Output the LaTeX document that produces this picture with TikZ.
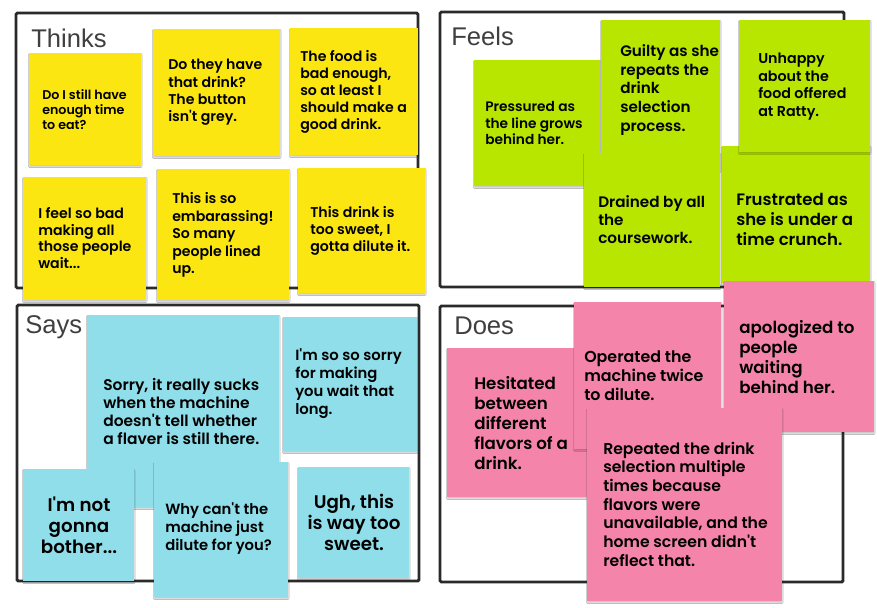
\documentclass[tikz,border=0pt]{standalone}
\usepackage{fontspec}
\setmainfont{Liberation Sans}
\newfontfamily\notefont{Poppins}[BoldFont={Poppins SemiBold}]
\newfontfamily\headfont{Liberation Sans}
\usetikzlibrary{fit,shadows.blur}

\definecolor{frameline}{HTML}{2A2A2A}
\definecolor{headgray}{HTML}{3F3F3F}
\definecolor{stickyyellow}{HTML}{FBE612}
\definecolor{stickylime}{HTML}{B8E600}
\definecolor{stickycyan}{HTML}{8FDEEA}
\definecolor{stickypink}{HTML}{F584AA}

\tikzset{
  quadframe/.style={draw=frameline, line width=2.2pt, rounded corners=1pt},
  quadtitle/.style={anchor=west, inner sep=0, text=headgray, font=\headfont\fontsize{19.2}{23}\selectfont},
  sticky/.style={fit={#1}, inner sep=0, draw=none,
    blur shadow={shadow xshift=0.2pt, shadow yshift=-1.1pt, shadow blur steps=3,
                 shadow blur radius=0.7pt, shadow opacity=22}},
  yellownote/.style={sticky={#1}, fill=stickyyellow},
  limenote/.style={sticky={#1}, fill=stickylime},
  cyannote/.style={sticky={#1}, fill=stickycyan},
  pinknote/.style={sticky={#1}, fill=stickypink},
  notetext/.style 2 args={anchor=west, align=left, inner sep=0, text=black,
    font=\notefont\bfseries\fontsize{#1}{#2}\selectfont},
  notetextc/.style 2 args={anchor=center, align=center, inner sep=0, text=black,
    font=\notefont\bfseries\fontsize{#1}{#2}\selectfont},
}

\begin{document}
\begin{tikzpicture}[x=0.75pt, y=-0.75pt]
  \useasboundingbox[fill=white] (0,0) rectangle (877,607);

  % the four quadrants
  \node[quadframe, fit={(16,13) (418,288)}, inner sep=0] (thinksbox) {};
  \node[quadframe, fit={(440,12) (844,287)}, inner sep=0] (feelsbox) {};
  \node[quadframe, fit={(17,305) (419,581)}, inner sep=0] (saysbox) {};
  \node[quadframe, fit={(440,306) (843,582)}, inner sep=0] (doesbox) {};

  \node[quadtitle] (thinks) at (31,38) {Thinks};
  \node[quadtitle] (feels) at (451,36) {Feels};
  \node[quadtitle] (says) at (25,327) {Says};
  \node[quadtitle] (does) at (454,326) {Does};

  % Thinks
  \node[yellownote={(29,53) (141,165)}] (t1) {};
  \node[notetext={9.5}{11.25}] (t1x) at (42,110) {Do I still have\\enough time\\to eat?};
  \node[yellownote={(153,29) (280,156)}] (t2) {};
  \node[notetext={10.6}{13}] (t2x) at (168,92.5) {Do they have\\that drink?\\The button\\isn't grey.};
  \node[yellownote={(290,28) (418,155)}] (t3) {};
  \node[notetext={10.6}{12.75}] (t3x) at (300,92) {The food is\\bad enough,\\so at least I\\should make a\\good drink.};
  \node[yellownote={(23,177) (146,300)}] (t4) {};
  \node[notetext={10.6}{12.5}] (t4x) at (38,238) {I feel so bad\\making all\\those people\\wait...};
  \node[yellownote={(157,169) (289,300)}] (t5) {};
  \node[notetext={10.6}{13.1}] (t5x) at (172,235) {This is so\\embarassing!\\So many\\people lined\\up.};
  \node[yellownote={(298,168) (425,293)}] (t6) {};
  \node[notetext={10.6}{12.75}] (t6x) at (310,231) {This drink is\\too sweet, I\\gotta dilute it.};

  % Feels
  \node[limenote={(474,60) (600,186)}] (f1) {};
  \node[notetext={10.3}{12.5}] (f1x) at (485,123) {Pressured as\\the line grows\\behind her.};
  \node[limenote={(601,20) (720,170)}] (f2) {};
  \node[notetext={11.4}{14}] (f2x) at (620,90) {Guilty as she\\repeats the\\drink\\selection\\process.};
  \node[limenote={(722,146) (870,283)}] (f5) {};
  \node[notetext={12.4}{15}] (f5x) at (736,219) {Frustrated as\\she is under a\\time crunch.};
  \node[limenote={(739,20) (870,152)}] (f3) {};
  \node[notetext={10.7}{13.3}] (f3x) at (758,86.5) {Unhappy\\about the\\food offered\\at Ratty.};
  \node[limenote={(584,153) (720,287)}] (f4) {};
  \node[notetext={11.4}{13.5}] (f4x) at (598,220) {Drained by all\\the\\coursework.};

  % Says
  \node[cyannote={(87,315) (279,507)}] (s1) {};
  \node[notetext={11.6}{13.7}] (s1x) at (103,411.5) {Sorry, it really sucks\\when the machine\\doesn't tell whether\\a flaver is still there.};
  \node[cyannote={(283,317) (417,451)}] (s2) {};
  \node[notetext={11.1}{13.5}] (s2x) at (295,384) {I'm so so sorry\\for making\\you wait that\\long.};
  \node[cyannote={(23,469) (134,581)}] (s3) {};
  \node[notetextc={13.7}{15.75}] (s3x) at (79,525) {I'm not\\gonna\\bother...};
  \node[cyannote={(154,462) (288,597)}] (s4) {};
  \node[notetext={11.1}{13.5}] (s4x) at (165,529) {Why can't the\\machine just\\dilute for you?};
  \node[cyannote={(298,467) (409,578)}] (s5) {};
  \node[notetextc={13.7}{15.75}] (s5x) at (354,522) {Ugh, this\\is way too\\sweet.};

  % Does
  \node[pinknote={(447,348) (587,497)}] (d1) {};
  \node[notetext={12.5}{15}] (d1x) at (474,423) {Hesitated\\between\\different\\flavors of a\\drink.};
  \node[pinknote={(574,302) (721,449)}] (d2) {};
  \node[notetext={11.9}{14.25}] (d2x) at (584,376) {Operated the\\machine twice\\to dilute.};
  \node[pinknote={(724,281) (874,432)}] (d3) {};
  \node[notetext={12.5}{15}] (d3x) at (739,357) {apologized to\\people\\waiting\\behind her.};
  \node[pinknote={(587,408) (782,601)}] (d4) {};
  \node[notetext={11.75}{14}] (d4x) at (603,504) {Repeated the drink\\selection multiple\\times because\\flavors were\\unavailable, and the\\home screen didn't\\reflect that.};
\end{tikzpicture}
\end{document}
